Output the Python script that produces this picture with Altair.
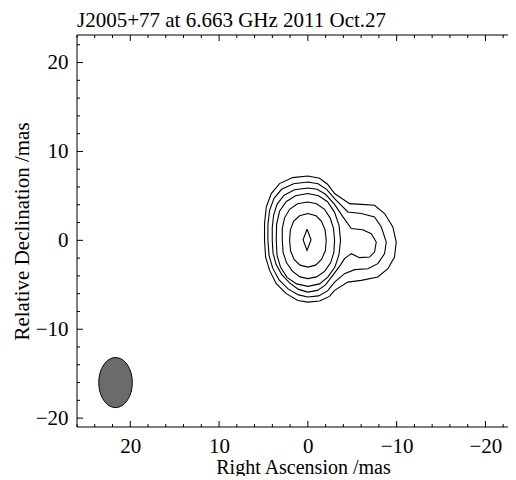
import altair as alt
import pandas as pd

# ---- contour levels (Right Ascension mas, Relative Declination mas), outer -> inner
c1_ra = [0.00, 1.72, 3.19, 4.12, 4.68, 4.88, 4.88, 4.76, 4.31, 3.56, 2.43, 1.13, 0.00, -1.32, -2.44, -3.01,
         -4.50, -6.01, -7.88, -9.01, -9.76, -9.95, -9.57, -8.64, -7.51, -6.01, -4.70, -3.01, -2.22, -1.32, 0.00]
c1_dec = [7.24, 7.06, 6.38, 5.26, 3.75, 1.88, 0.00, -1.88, -3.38, -4.88, -6.00, -6.76, -6.95, -6.83, -6.31, -5.63,
          -4.70, -4.50, -4.13, -3.19, -1.88, -0.19, 1.50, 3.01, 3.94, 4.05, 4.13, 5.26, 6.31, 6.98, 7.24]

c2_ra = [0.00, 1.61, 2.96, 3.81, 4.31, 4.50, 4.50, 4.37, 3.97, 3.24, 2.23, 1.05, 0.00, -1.20, -2.22, -3.01,
         -4.13, -5.26, -6.76, -7.88, -8.64, -8.83, -8.27, -7.51, -6.01, -4.50, -3.01, -2.11, -1.15, 0.00]
c2_dec = [6.56, 6.36, 5.74, 4.73, 3.38, 1.80, 0.00, -1.69, -3.10, -4.45, -5.46, -6.14, -6.38, -6.25, -5.69, -4.70,
          -3.75, -3.30, -3.19, -2.62, -1.50, -0.19, 1.50, 2.62, 3.01, 3.19, 4.70, 5.74, 6.36, 6.56]

c3_ra = [0.00, 1.50, 2.68, 3.47, 3.86, 4.01, 4.01, 3.92, 3.58, 2.96, 2.06, 1.05, 0.00, -1.09, -1.99, -2.89,
         -3.68, -4.13, -4.89, -5.82, -6.95, -7.51, -7.70, -7.14, -6.19, -4.89, -3.91, -3.01, -1.99, -1.04, 0.00]
c3_dec = [5.89, 5.69, 5.07, 4.05, 2.82, 1.46, 0.00, -1.46, -2.70, -3.83, -4.79, -5.52, -5.82, -5.63, -5.01, -3.83,
          -2.76, -2.06, -1.50, -1.95, -1.88, -1.32, -0.19, 0.75, 1.20, 1.32, 2.70, 4.05, 5.18, 5.74, 5.89]

c4_ra = [0.00, 1.39, 2.45, 3.19, 3.52, 3.56, 3.47, 3.07, 2.34, 1.27, 0.00, -1.32, -2.27, -3.06, -3.51, -3.68,
         -3.51, -3.01, -2.22, -1.20, 0.00]
c4_dec = [5.26, 5.01, 4.34, 3.27, 1.80, 0.00, -1.69, -3.04, -4.17, -4.90, -5.18, -4.90, -4.11, -2.98, -1.58, 0.00,
          1.69, 3.15, 4.34, 5.01, 5.26]

c5_ra = [0.00, 1.16, 2.06, 2.62, 2.88, 2.88, 2.79, 2.40, 1.72, 0.88, 0.00, -0.98, -1.88, -2.56, -2.93, -3.01,
         -2.89, -2.50, -1.88, -0.98, 0.00]
c5_dec = [4.31, 4.11, 3.49, 2.53, 1.35, 0.00, -1.35, -2.53, -3.49, -4.11, -4.31, -4.11, -3.49, -2.53, -1.35, 0.00,
          1.35, 2.53, 3.49, 4.11, 4.31]

c6_ra = [0.00, 0.93, 1.61, 1.97, 2.06, 1.95, 1.55, 0.88, 0.00, -0.87, -1.54, -1.97, -2.07, -1.94, -1.54, -0.92, 0.00]
c6_dec = [3.01, 2.76, 2.14, 1.18, 0.00, -1.18, -2.14, -2.79, -3.01, -2.79, -2.14, -1.18, 0.00, 1.18, 2.14, 2.76, 3.01]

c7_ra = [0.09, -0.36, 0.09, 0.54, 0.09]
c7_dec = [1.24, 0.06, -1.13, 0.06, 1.24]

# restoring beam
beam_ra = [21.66]
beam_dec = [-16.0]

# axis ticks
major_ticks = [20, 10, 0, -10, -20]
x_minor_ticks = [26, 24, 22, 18, 16, 14, 12, 8, 6, 4, 2, -2, -4, -6, -8, -12, -14, -16, -18, -22]
y_minor_ticks = [22, 18, 16, 14, 12, 8, 6, 4, 2, -2, -4, -6, -8, -12, -14, -16, -18]

# visible field (the frame's right edge falls outside the picture)
ra_range = [26.0, -22.54]
dec_range = [-21.0, 23.1]

title_text = "J2005+77 at 6.663 GHz 2011 Oct.27"
x_title = "Right Ascension /mas"
y_title = "Relative Declination /mas"

# ---- build tables
rows = []
for lvl, (ras, decs) in enumerate([(c1_ra, c1_dec), (c2_ra, c2_dec), (c3_ra, c3_dec), (c4_ra, c4_dec),
                                     (c5_ra, c5_dec), (c6_ra, c6_dec), (c7_ra, c7_dec)], start=1):
    for i, (r, d) in enumerate(zip(ras, decs)):
        rows.append({"level": lvl, "idx": i, "ra": r, "dec": d})
contours = pd.DataFrame(rows)
beam = pd.DataFrame({"ra": beam_ra, "dec": beam_dec})
xmaj = pd.DataFrame({"v": major_ticks})
xmin = pd.DataFrame({"v": x_minor_ticks})
ymaj = pd.DataFrame({"v": major_ticks})
ymin = pd.DataFrame({"v": y_minor_ticks})

W, H = 431, 392
FONT = "Liberation Serif"
FS = 21
xs = alt.Scale(domain=ra_range, nice=False, zero=False)
ys = alt.Scale(domain=dec_range, nice=False, zero=False)

x_axis = alt.Axis(values=major_ticks, ticks=False, tickSize=0, domain=False, grid=False,
                  labelFont=FONT, labelFontSize=FS, labelColor="black", labelPadding=8,
                  labelFlush=False, labelOverlap=False,
                  title=x_title, titleFont=FONT, titleFontSize=20, titleFontWeight="normal",
                  titleColor="black", titleX=226, titleY=30)
y_axis = alt.Axis(values=major_ticks, ticks=False, tickSize=0, domain=False, grid=False,
                  labelFont=FONT, labelFontSize=FS, labelColor="black", labelPadding=9,
                  labelFlush=False, labelOverlap=False,
                  title=y_title, titleFont=FONT, titleFontSize=FS, titleFontWeight="normal",
                  titleColor="black", titleBaseline="alphabetic", titleX=-49, titleY=H / 2)

X = lambda f: alt.X(f, scale=xs, axis=x_axis)
Y = lambda f: alt.Y(f, scale=ys, axis=y_axis)

lines = alt.Chart(contours).mark_line(color="black", strokeWidth=1.1).encode(
    x=X("ra:Q"), y=Y("dec:Q"), detail="level:N", order="idx:Q",
)

ellipse_path = "M0,-1 A0.67,1 0 1,1 0,1 A0.67,1 0 1,1 0,-1 Z"
beam_mark = alt.Chart(beam).mark_point(
    shape=ellipse_path, size=2500, filled=True, fill="#6b6b6b", stroke="black",
    strokeWidth=1, opacity=1
).encode(x=X("ra:Q"), y=Y("dec:Q"))

def xticks(df, length, top):
    y0, y1 = (0, length) if top else (H, H - length)
    return alt.Chart(df).mark_rule(color="black", strokeWidth=1).encode(
        x=X("v:Q"), y=alt.value(y0), y2=alt.value(y1))

def yticks(df, length):
    return alt.Chart(df).mark_rule(color="black", strokeWidth=1).encode(
        y=Y("v:Q"), x=alt.value(0), x2=alt.value(length))

frame_df = pd.DataFrame({"side": ["left", "top", "bottom"]})
frame_left = alt.Chart(frame_df.iloc[[0]]).mark_rule(color="black", strokeWidth=1).encode(
    x=alt.value(0), y=alt.value(0), y2=alt.value(H))
frame_top = alt.Chart(frame_df.iloc[[1]]).mark_rule(color="black", strokeWidth=1).encode(
    x=alt.value(0), x2=alt.value(W), y=alt.value(0))
frame_bottom = alt.Chart(frame_df.iloc[[2]]).mark_rule(color="black", strokeWidth=1).encode(
    x=alt.value(0), x2=alt.value(W), y=alt.value(H))

chart = alt.layer(
    lines, beam_mark,
    xticks(xmaj, 6, False), xticks(xmin, 3, False),
    xticks(xmaj, 6, True), xticks(xmin, 3, True),
    yticks(ymaj, 6), yticks(ymin, 3),
    frame_left, frame_top, frame_bottom,
).properties(
    width=W, height=H,
    title=alt.TitleParams(title_text, anchor="start", frame="group", font=FONT, fontSize=FS,
                          fontWeight="normal", color="black", offset=4),
    autosize=alt.AutoSizeParams(type="none"),
    padding={"left": 69, "top": 27, "right": 0, "bottom": 49},
    background="white",
).configure_view(stroke=None)

chart.save("out.html", embed_options={"renderer": "svg", "actions": False})
